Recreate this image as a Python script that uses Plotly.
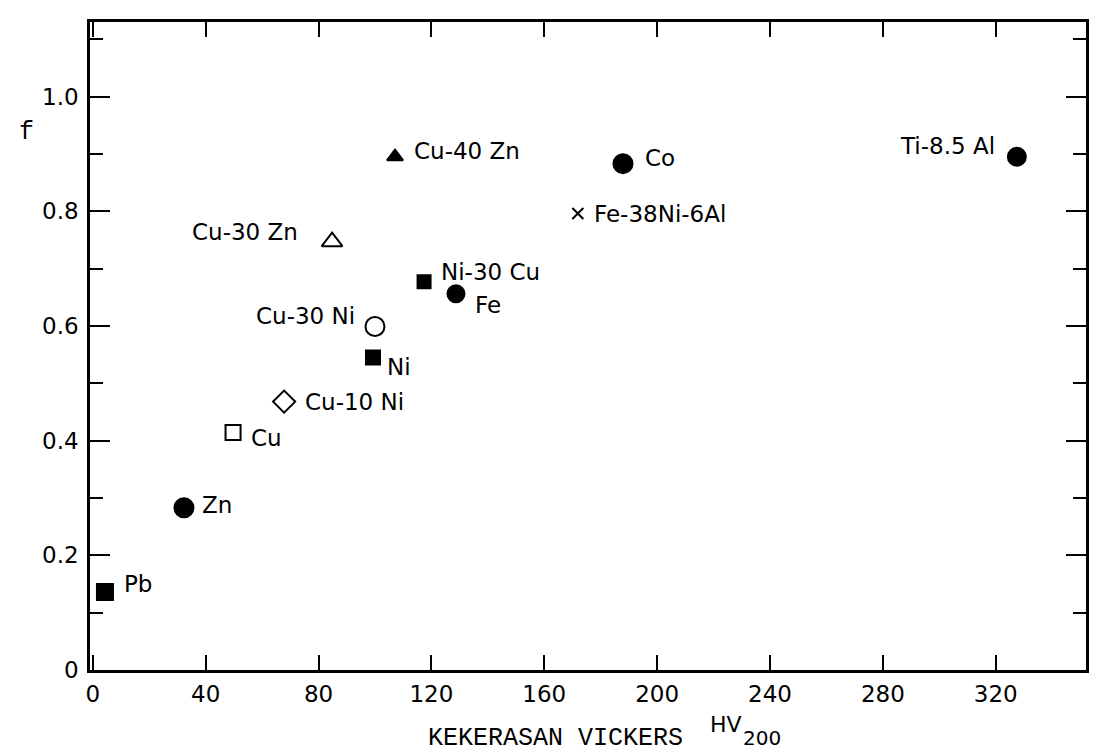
import plotly.graph_objects as go

# ---- data ----
materials = ["Pb", "Zn", "Cu", "Cu-10 Ni", "Cu-30 Ni", "Ni", "Ni-30 Cu", "Fe",
             "Cu-30 Zn", "Cu-40 Zn", "Co", "Fe-38Ni-6Al", "Ti-8.5 Al"]
hv200 = [4.3, 32.3, 49.7, 67.8, 100.0, 99.3, 117.4, 128.7, 84.8, 107.1, 187.9, 171.9, 327.5]
f_values = [0.136, 0.283, 0.414, 0.468, 0.599, 0.545, 0.677, 0.656, 0.747, 0.895, 0.883, 0.796, 0.895]

x_tick_vals = [0, 40, 80, 120, 160, 200, 240, 280, 320]
y_tick_vals = [0, 0.2, 0.4, 0.6, 0.8, 1.0]
y_tick_text = ["0", "0.2", "0.4", "0.6", "0.8", "1.0"]

# ---- styles ----
marker_style = {
    "Pb": ("square", 16), "Zn": ("circle", 19), "Cu": ("square-open", 15),
    "Cu-10 Ni": ("diamond-open", 17), "Cu-30 Ni": ("circle-open", 19),
    "Ni": ("square", 14), "Ni-30 Cu": ("square", 13), "Fe": ("circle", 17),
    "Cu-30 Zn": ("triangle-up-open", 18), "Cu-40 Zn": ("triangle-up", 14),
    "Co": ("circle", 19), "Fe-38Ni-6Al": ("x-thin-open", 11), "Ti-8.5 Al": ("circle", 18),
}
# label placement: (xanchor, xshift px, yshift px)
label_style = {
    "Pb": ("left", 17, 8), "Zn": ("left", 16, 3), "Cu": ("left", 16, -5),
    "Cu-10 Ni": ("left", 19, 0), "Cu-30 Ni": ("right", -18, 11),
    "Ni": ("left", 12, -10), "Ni-30 Cu": ("left", 15, 10), "Fe": ("left", 17, -11),
    "Cu-30 Zn": ("right", -32, 10), "Cu-40 Zn": ("left", 17, 6), "Co": ("left", 20, 6),
    "Fe-38Ni-6Al": ("left", 14, 0), "Ti-8.5 Al": ("right", -20, 11),
}

SANS = "DejaVu Sans"
MONO = "Liberation Mono, Courier New, monospace"

fig = go.Figure()
fig.add_trace(go.Scatter(
    x=hv200, y=f_values, mode="markers",
    marker=dict(
        symbol=[marker_style[m][0] for m in materials],
        size=[marker_style[m][1] for m in materials],
        color="black", opacity=1,
        line=dict(color="black", width=2),
    ),
    showlegend=False, hoverinfo="skip",
))

for m, xv, yv in zip(materials, hv200, f_values):
    anchor, xs, ys = label_style[m]
    fig.add_annotation(x=xv, y=yv, xref="x", yref="y", text=m, showarrow=False,
                       xanchor=anchor, yanchor="middle", xshift=xs, yshift=ys,
                       font=dict(family=SANS, size=23, color="black"))

# axis titles as annotations
fig.add_annotation(x=0.467, y=-0.106, xref="paper", yref="paper",
                   text="KEKERASAN VICKERS", showarrow=False,
                   xanchor="center", yanchor="middle",
                   font=dict(family=MONO, size=25, color="black"))
fig.add_annotation(x=0.6205, y=-0.084, xref="paper", yref="paper",
                   text="HV", showarrow=False,
                   xanchor="left", yanchor="middle",
                   font=dict(family=SANS, size=22, color="black"))
fig.add_annotation(x=0.6536, y=-0.1055, xref="paper", yref="paper",
                   text="200", showarrow=False,
                   xanchor="left", yanchor="middle",
                   font=dict(family=SANS, size=20, color="black"))
fig.add_annotation(x=-0.064, y=0.829, xref="paper", yref="paper",
                   text="f", showarrow=False, xanchor="center", yanchor="middle",
                   font=dict(family=MONO, size=25, color="black"))

axis_common = dict(
    showgrid=False, zeroline=False, showline=True, linecolor="black", linewidth=2.5,
    mirror="ticks", ticks="inside", tickcolor="black", tickwidth=2,
    tickfont=dict(family=SANS, size=23, color="black"),
)

fig.update_xaxes(range=[-1, 352], tickmode="array", tickvals=x_tick_vals,
                 ticklen=15, ticklabelstandoff=2, **axis_common)
fig.update_yaxes(range=[0, 1.13], tickmode="array", tickvals=y_tick_vals,
                 ticktext=y_tick_text, ticklen=20, ticklabelstandoff=4,
                 minor=dict(tickmode="linear", tick0=0, dtick=0.1, ticks="inside",
                            ticklen=13, tickwidth=2, tickcolor="black"),
                 **axis_common)

fig.update_layout(
    width=1103, height=752,
    margin=dict(l=90, r=17, t=22, b=82),
    paper_bgcolor="white", plot_bgcolor="white",
)

fig.write_html("out.html")
